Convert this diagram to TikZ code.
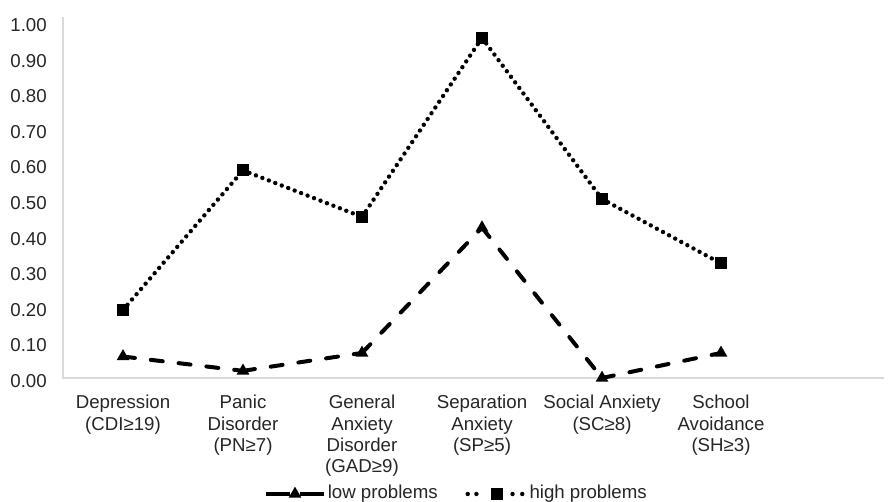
\documentclass[tikz,border=0pt]{standalone}
\usepackage{fontspec}
\setmainfont{Liberation Sans}
\usetikzlibrary{positioning, shapes.geometric}

\begin{document}
\begin{tikzpicture}[x=0.75pt, y=-0.75pt,
    every node/.style={font=\fontsize{14}{16}\selectfont, inner sep=0pt, text=black!85},
    gridline/.style={draw=black!15, line width=0.8pt},
    lowline/.style={line width=3pt, line cap=round, dash pattern=on 9pt off 12pt},
    highline/.style={line width=3.3pt, line cap=round, dash pattern=on 0pt off 5.2pt},
    sqmark/.style={rectangle, fill, minimum size=9pt},
    trimark/.style={regular polygon, regular polygon sides=3, fill, minimum size=11pt},
    catlabel/.style={align=center, anchor=north}]
  \useasboundingbox (0,0) rectangle (889,502);
  \coordinate (top) at (63,17);
  \coordinate (o) at (63,378);
  \coordinate (end) at (884,378);
  \draw[gridline] (top) -- (o) -- (end);
  \foreach \t [count=\i from 0] in {0.00,0.10,0.20,0.30,0.40,0.50,0.60,0.70,0.80,0.90,1.00}
    \node[anchor=east] (y\i) at (47,{381-35.6*\i}) {\t};
  % data points
  \foreach \x/\lo/\hi [count=\i] in {123/0.06/0.19, 243/0.02/0.58, 362/0.07/0.45, 482/0.42/0.95, 602/0.00/0.50, 721/0.07/0.32} {
    \coordinate (l\i) at (\x,{378-358*\lo});
    \coordinate (h\i) at (\x,{378-358*\hi});
  }
  \foreach \i [remember=\i as \j (initially 1)] in {2,...,6} {
    \draw[lowline] (l\j) -- (l\i);
    \draw[highline] (h\j) -- (h\i);
  }
  \foreach \i in {1,...,6} {
    \node[trimark] (lm\i) at (l\i) {};
    \node[sqmark] (hm\i) at (h\i) {};
  }
  \node[catlabel] (c1) at (123,395) {Depression\\(CDI≥19)};
  \node[catlabel] (c2) at (243,395) {Panic\\Disorder\\(PN≥7)};
  \node[catlabel] (c3) at (362,395) {General\\Anxiety\\Disorder\\(GAD≥9)};
  \node[catlabel] (c4) at (482,395) {Separation\\Anxiety\\(SP≥5)};
  \node[catlabel] (c5) at (602,395) {Social Anxiety\\(SC≥8)};
  \node[catlabel] (c6) at (721,395) {School\\Avoidance\\(SH≥3)};
  % legend
  \node[trimark] (lowkey) at (295,494) {};
  \coordinate[left=18pt of lowkey] (lowa);
  \coordinate[right=18pt of lowkey] (lowb);
  \draw[line width=3.5pt] (lowa) -- (lowkey);
  \draw[line width=3.5pt] (lowkey) -- (lowb);
  \node[right=21pt of lowkey] (lowtxt) {low problems};
  \node[sqmark] (highkey) at (497,494) {};
  \coordinate[left=17.25pt of highkey] (higha);
  \coordinate[left=10.5pt of highkey] (highb);
  \coordinate[right=6.75pt of highkey] (highc);
  \coordinate[right=14.25pt of highkey] (highd);
  \draw[highline, dash pattern=on 0pt off 6.5pt] (higha) -- (highb);
  \draw[highline, dash pattern=on 0pt off 7.3pt] (highd) -- (highc);
  \node[right=19.5pt of highkey] (hightxt) {high problems};
\end{tikzpicture}
\end{document}
